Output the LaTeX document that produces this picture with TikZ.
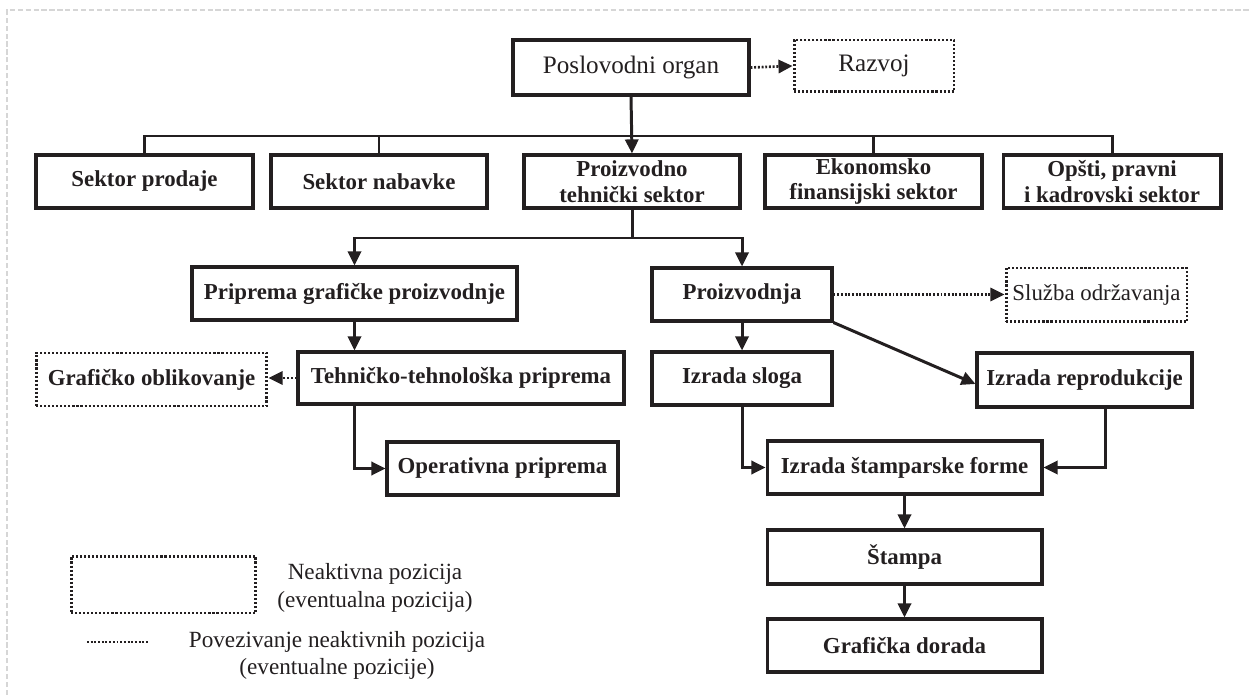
\documentclass[tikz,border=0pt]{standalone}
\usepackage{fontspec}
\setmainfont{Liberation Serif}
\usetikzlibrary{arrows.meta}
\definecolor{ink}{HTML}{231F20}
\definecolor{framegray}{HTML}{D6D6D6}
\tikzset{
  x=0.02cm, y=-0.02cm,
  box/.style={draw=ink, text=ink, line width=1.75pt, inner sep=0pt, align=center,
    font=\fontsize{13}{14.5}\selectfont\bfseries},
  plainbox/.style={box, font=\fontsize{14.3}{16}\selectfont},
  dotbox/.style={box, line width=1.7pt, dash pattern=on 1.2pt off 1.1pt},
  conn/.style={draw=ink, line width=1.7pt},
  arr/.style={conn, -{Triangle[length=8pt,width=7.5pt]}},
  dotarr/.style={arr, line width=1.5pt, dash pattern=on 1.1pt off 1pt},
  legendtext/.style={text=ink, align=center, font=\fontsize{13.2}{15.5}\selectfont}
}
\begin{document}
\begin{tikzpicture}
\useasboundingbox (0,0) rectangle (1250,695);
\draw[framegray, line width=0.9pt, dash pattern=on 3pt off 1.5pt] (7,695) -- (7,10) -- (1250,10);

% top
\node[plainbox, minimum width=4.72cm, minimum height=1.10cm] (po) at (631,67.5) {Poslovodni organ};
\node[plainbox, line width=1.7pt, dash pattern=on 1.2pt off 1.1pt, minimum width=3.20cm, minimum height=1.04cm] (rz) at (874,66) {Razvoj};

% sectors
\node[box, minimum width=4.34cm, minimum height=1.06cm] (sp) at (144.5,181.5) {Sektor prodaje};
\node[box, minimum width=4.32cm, minimum height=1.06cm] (sn) at (379,181.5) {Sektor nabavke};
\node[box, minimum width=4.32cm, minimum height=1.06cm] (pt) at (632,181.5) {Proizvodno\\tehnički sektor};
\node[box, minimum width=4.34cm, minimum height=1.06cm] (ek) at (873.5,181.5) {Ekonomsko\\finansijski sektor};
\node[box, minimum width=4.36cm, minimum height=1.06cm] (op) at (1112,181.5) {Opšti, pravni\\i kadrovski sektor};

% level 3
\node[box, minimum width=6.50cm, minimum height=1.06cm] (pg) at (354.5,293.5) {Priprema grafičke proizvodnje};
\node[box, minimum width=3.60cm, minimum height=1.06cm] (pd) at (742,294.5) {Proizvodnja};
\node[plainbox, line width=1.7pt, dash pattern=on 1.2pt off 1.1pt, font=\fontsize{13}{14.5}\selectfont, minimum width=3.62cm, minimum height=1.08cm] (sl) at (1096.5,295) {Služba održavanja};

% level 4
\node[box, minimum width=6.52cm, minimum height=1.04cm] (tt) at (461,378) {Tehničko-tehnološka priprema};
\node[dotbox, minimum width=4.62cm, minimum height=1.06cm] (go) at (151.5,379.5) {Grafičko oblikovanje};
\node[box, minimum width=3.60cm, minimum height=1.06cm] (is) at (742,378.5) {Izrada sloga};
\node[box, minimum width=4.30cm, minimum height=1.08cm] (ir) at (1084.5,380) {Izrada reprodukcije};

% level 5+
\node[box, minimum width=4.62cm, minimum height=1.06cm] (or) at (502.5,468.5) {Operativna priprema};
\node[box, minimum width=5.50cm, minimum height=1.06cm] (sf) at (904.5,467.5) {Izrada štamparske forme};
\node[box, minimum width=5.50cm, minimum height=1.08cm] (st) at (904.5,557) {Štampa};
\node[box, minimum width=5.50cm, minimum height=1.06cm] (gd) at (904.5,645.5) {Grafička dorada};

% legend
\node[dotbox, minimum width=3.70cm, minimum height=1.14cm] (lg) at (163.5,584.5) {};
\node[legendtext] (lgt1) at (375,588) {Neaktivna pozicija\\(eventualna pozicija)};
\coordinate (la) at (87,642);
\coordinate (lb) at (149,642);
\draw[conn, line width=1.5pt, dash pattern=on 1.1pt off 1pt] (la) -- (lb);
\node[legendtext] (lgt2) at (337,655.5) {Povezivanje neaktivnih pozicija\\(eventualne pozicije)};

% connectors
\coordinate (busy) at (0,136);
\coordinate (sy) at (0,238);
\draw[dotarr] (po.east) -- (rz.west);
\draw[conn] (sp.north) |- (op.north |- busy) -- (op.north);
\draw[conn] (sn.north) -- (sn.north |- busy);
\draw[conn] (ek.north) -- (ek.north |- busy);
\draw[arr] (po.south) -- (pt.north);

\draw[arr] (pt.south) -- (pt.south |- sy) -| (pg.north);
\draw[arr] (pt.south |- sy) -| (pd.north);

\draw[arr] (pg.south) -- (pg.south |- tt.north);
\draw[dotarr] (tt.west) -- (tt.west -| go.east);
\draw[arr] (pg.south |- tt.south) |- (or.west);

\draw[dotarr] (pd.east) -- (pd.east -| sl.west);
\draw[arr] (pd.south) -- (is.north);
\draw[arr] (pd.south east) -- ([yshift=-0.08cm]ir.west);
\draw[arr] (is.south) |- (sf.west);
\draw[arr] ([xshift=0.41cm]ir.south) |- (sf.east);
\draw[arr] (sf.south) -- (st.north);
\draw[arr] (st.south) -- (gd.north);
\end{tikzpicture}
\end{document}
